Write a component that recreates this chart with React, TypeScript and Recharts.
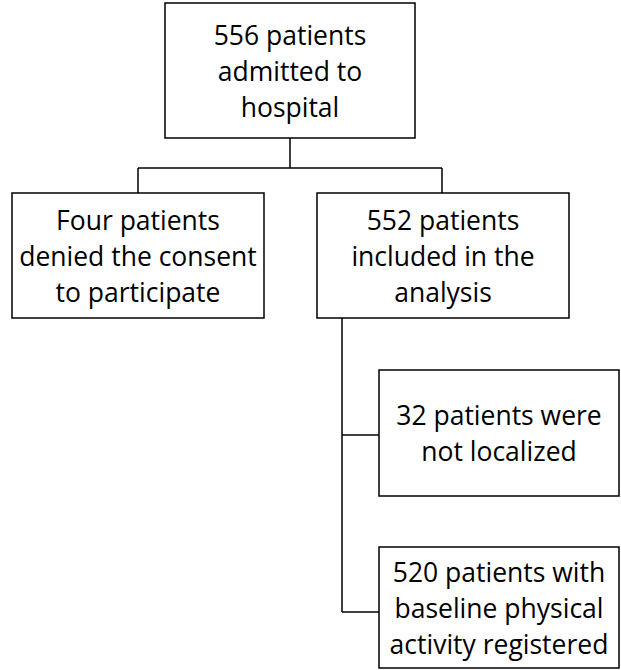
import React from "react";
import { ComposedChart, XAxis, YAxis, ReferenceArea, ReferenceLine, Scatter } from "recharts";

const boxTexts: string[][] = [
  ["556 patients", "admitted to", "hospital"],
  ["Four patients", "denied the consent", "to participate"],
  ["552 patients", "included in the", "analysis"],
  ["32 patients were", "not localized"],
  ["520 patients with", "baseline physical", "activity registered"],
];

// layout (x1, x2, y1, y2)
const boxLayout = [
  [165, 415, 3, 138],
  [12, 264, 193, 318],
  [317, 569, 193, 318],
  [379, 619, 370, 496],
  [379, 619, 547, 668],
];

const lineLayout: [number, number, number, number][] = [
  [290, 138, 290, 168],
  [138, 168, 442, 168],
  [138, 168, 138, 193],
  [442, 168, 442, 193],
  [342, 318, 342, 612],
  [342, 435, 379, 435],
  [342, 612, 379, 612],
];

const dummy = [{ x: -10, y: -10 }];

const Label = (lines: string[]) => (props: any) => {
  const { x, y, width, height } = props.viewBox;
  const lh = 36;
  const cy = y + height / 2 - ((lines.length - 1) * lh) / 2;
  return (
    <text x={x + width / 2} y={cy} textAnchor="middle" dominantBaseline="central"
      fontFamily="'Open Sans', sans-serif" fontSize={26.5} fill="#000">
      {lines.map((l, i) => (
        <tspan key={i} x={x + width / 2} y={cy + i * lh}>{l}</tspan>
      ))}
    </text>
  );
};

export default function App() {
  return (
    <div style={{ position: "absolute", left: 0, top: 0, background: "#fff" }}>
      <ComposedChart width={621} height={670} margin={{ top: 0, right: 0, bottom: 0, left: 0 }}>
        <XAxis type="number" dataKey="x" domain={[0, 621]} hide allowDataOverflow />
        <YAxis type="number" dataKey="y" domain={[0, 670]} reversed hide allowDataOverflow />
        <Scatter data={dummy} fill="none" isAnimationActive={false} />
        {lineLayout.map((s, i) => (
          <ReferenceLine key={"l" + i} segment={[{ x: s[0], y: s[1] }, { x: s[2], y: s[3] }]}
            stroke="#000" strokeWidth={1.5} ifOverflow="visible" />
        ))}
        {boxLayout.map((b, i) => (
          <ReferenceArea key={"b" + i} x1={b[0]} x2={b[1]} y1={b[2]} y2={b[3]}
            fill="#fff" fillOpacity={1} stroke="#000" strokeWidth={1.5} ifOverflow="visible"
            label={Label(boxTexts[i])} />
        ))}
      </ComposedChart>
    </div>
  );
}
